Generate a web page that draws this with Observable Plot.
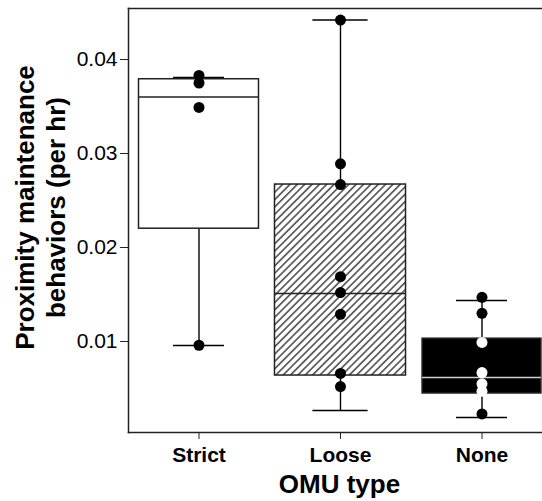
<!DOCTYPE html>
<html><head><meta charset="utf-8">
<script src="https://cdn.jsdelivr.net/npm/d3@7"></script>
<script src="https://cdn.jsdelivr.net/npm/@observablehq/plot@0.6"></script>
<style>body{margin:0;background:#fff;overflow:hidden}</style>
</head><body><div id="chart"></div>
<script>
// ---- data ----
const categories = ["Strict", "Loose", "None"];
const whiskerLow  = [0.00957, 0.00266, 0.00191];
const lowerHinge  = [0.0220, 0.00638, 0.00447];
const medians     = [0.0360, 0.0151, 0.00617];
const upperHinge  = [0.0379, 0.0267, 0.0103];
const whiskerHigh = [0.0381, 0.0442, 0.01436];
const strictPoints = [0.0383, 0.0375, 0.0349, 0.0096];
const loosePoints  = [0.0442, 0.0289, 0.0267, 0.0169, 0.0152, 0.0129, 0.0066, 0.0052];
const nonePoints   = [0.0147, 0.0130, 0.0099, 0.0067, 0.0055, 0.0047, 0.0023];
const yTicks = [0.01, 0.02, 0.03, 0.04];
const xAxisTitle = "OMU type";
const yAxisTitle = "Proximity maintenance\nbehaviors (per hr)";

// ---- styles ----
const boxHalf = [0.424, 0.463, 0.42];
const capHalf = [0.18, 0.195, 0.18];
const boxFill = ["white", "url(#hatch)", "black"];
const medianStroke = ["#222", "#222", "#d0d0d0"];
const ink = "#222";

const boxes = categories.map((c, i) => ({
  cat: c, pos: i + 1, lo: whiskerLow[i], q1: lowerHinge[i], med: medians[i],
  q3: upperHinge[i], hi: whiskerHigh[i], half: boxHalf[i], cap: capHalf[i],
  fill: boxFill[i], medStroke: medianStroke[i]
}));
const points = [];
[strictPoints, loosePoints, nonePoints].forEach((arr, i) =>
  arr.forEach(v => points.push({
    pos: i + 1, v,
    fill: (i === 2 && v >= lowerHinge[i] && v <= upperHinge[i]) ? "white" : "black"
  })));

const hatchDefs = () => {
  const defs = d3.create("svg:defs");
  const p = defs.append("pattern").attr("id", "hatch")
    .attr("patternUnits", "userSpaceOnUse")
    .attr("width", 5.2).attr("height", 10)
    .attr("patternTransform", "rotate(45)");
  p.append("rect").attr("width", 5.2).attr("height", 10).attr("fill", "white");
  p.append("line").attr("x1", 2.6).attr("y1", 0).attr("x2", 2.6).attr("y2", 10)
    .attr("stroke", "black").attr("stroke-width", 1.1);
  return defs.node();
};

const chart = Plot.plot({
  width: 542, height: 501,
  marginLeft: 128, marginTop: 8, marginRight: 0, marginBottom: 69,
  x: {domain: [0.5018, 3.4276]},
  y: {domain: [0.000319, 0.045426]},
  color: {type: "identity"},
  style: {fontFamily: "'Liberation Sans', Arial, Helvetica, sans-serif", color: "black", background: "white"},
  marks: [
    hatchDefs,
    Plot.ruleX(boxes, {x: "pos", y1: "q3", y2: "hi", stroke: "black", strokeWidth: 1.4}),
    Plot.ruleX(boxes, {x: "pos", y1: "lo", y2: "q1", stroke: "black", strokeWidth: 1.4}),
    Plot.ruleY(boxes, {y: "hi", x1: d => d.pos - d.cap, x2: d => d.pos + d.cap, stroke: "black", strokeWidth: 1.4}),
    Plot.ruleY(boxes, {y: "lo", x1: d => d.pos - d.cap, x2: d => d.pos + d.cap, stroke: "black", strokeWidth: 1.4}),
    Plot.rect(boxes, {x1: d => d.pos - d.half, x2: d => d.pos + d.half, y1: "q1", y2: "q3", fill: "fill", stroke: ink, strokeWidth: 1.5}),
    Plot.ruleY(boxes, {y: "med", x1: d => d.pos - d.half, x2: d => d.pos + d.half, stroke: "medStroke", strokeWidth: 1.5}),
    Plot.dot(points, {x: "pos", y: "v", r: 5.5, fill: "fill", stroke: null}),
    Plot.frame({anchor: "left", stroke: ink, strokeWidth: 1.5}),
    Plot.frame({anchor: "top", stroke: ink, strokeWidth: 1.5}),
    Plot.frame({anchor: "bottom", stroke: ink, strokeWidth: 1.5}),
    Plot.axisY({ticks: yTicks, tickFormat: d3.format(".2f"), tickSize: 8, tickPadding: 3, fontSize: 21, stroke: ink, label: null}),
    Plot.axisX({ticks: [1, 2, 3], tickFormat: d => categories[d - 1], tickSize: 7, tickPadding: 8, fontSize: 21, fontWeight: "bold", stroke: ink, label: null}),
    Plot.text([yAxisTitle], {frameAnchor: "left", text: d => d, rotate: -90, dx: -89, dy: -13, fontSize: 26, fontWeight: "bold", lineHeight: 1.2, textAnchor: "middle", lineAnchor: "middle", fill: "black"}),
    Plot.text([xAxisTitle], {frameAnchor: "bottom", text: d => d, dx: 4, dy: 42.5, lineAnchor: "top", textAnchor: "middle", fontSize: 26, fontWeight: "bold", fill: "black"})
  ]
});
document.getElementById("chart").appendChild(chart);
</script>
</body></html>
